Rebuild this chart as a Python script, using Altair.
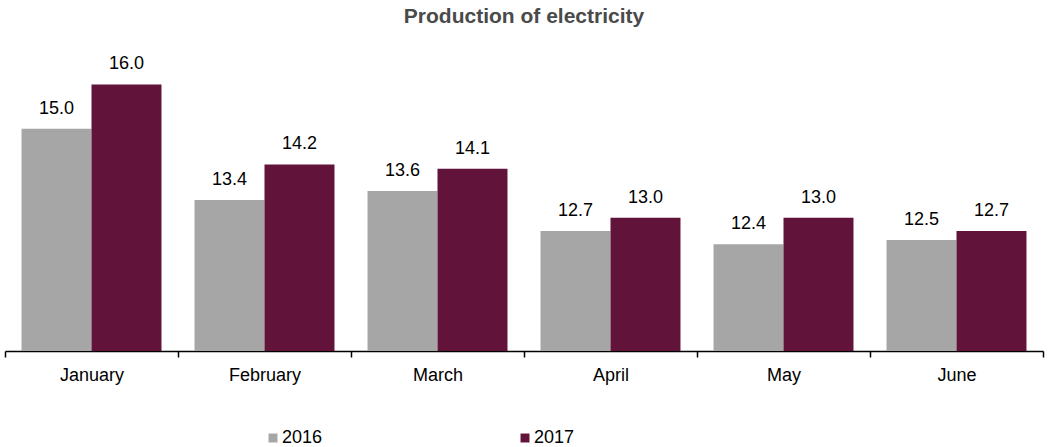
import altair as alt
import pandas as pd

months = ["January", "February", "March", "April", "May", "June"]
values_2016 = [15.0, 13.4, 13.6, 12.7, 12.4, 12.5]
values_2017 = [16.0, 14.2, 14.1, 13.0, 13.0, 12.7]
years = ["2016", "2017"]
colors = ["#A6A6A6", "#621339"]

rows = []
for m, a, b in zip(months, values_2016, values_2017):
    rows.append({"month": m, "year": years[0], "value": a})
    rows.append({"month": m, "year": years[1], "value": b})
df = pd.DataFrame(rows)

FONT = "Liberation Sans"

x = alt.X("month:N", sort=months, title=None,
          scale=alt.Scale(paddingInner=0, paddingOuter=0),
          axis=alt.Axis(domainColor="black", domainWidth=1.5, tickColor="black",
                        tickWidth=1.5, tickSize=6,
                        tickBand="extent", labelAngle=0, labelFont=FONT,
                        labelFontSize=18, labelColor="black", labelPadding=9,
                        grid=False))
xoff = alt.XOffset("year:N", scale=alt.Scale(paddingInner=0, paddingOuter=0.236))
y = alt.Y("value:Q", scale=alt.Scale(domain=[10, 17], zero=False, nice=False),
          axis=None)

base = alt.Chart(df)
bars = base.mark_bar(clip=True).encode(
    x=x, xOffset=xoff, y=y,
    color=alt.Color("year:N", scale=alt.Scale(domain=years, range=colors),
                    legend=alt.Legend(title=None, orient="none", legendX=259,
                                      legendY=389, direction="horizontal",
                                      symbolType="square", symbolSize=80,
                                      symbolStrokeWidth=0, labelFont=FONT,
                                      labelFontSize=18, labelColor="black",
                                      columnPadding=193, labelOffset=0)),
)
labels = base.mark_text(baseline="alphabetic", dy=-15, font=FONT, fontSize=18,
                        color="black").encode(
    x=x, xOffset=xoff, y=y, text=alt.Text("value:Q", format=".1f"))

chart = (bars + labels).properties(
    width=1038, height=311,
    background="white",
    title=alt.TitleParams("Production of electricity", font=FONT, fontSize=21,
                          fontWeight="bold", color="#4a4a4a", anchor="middle",
                          offset=13),
    autosize=alt.AutoSizeParams(type="none"),
    padding={"left": 5, "top": 40, "right": 5, "bottom": 96},
).configure_view(strokeWidth=0, stroke="transparent")

chart.save("out.html", embed_options={"renderer": "svg", "actions": False})
